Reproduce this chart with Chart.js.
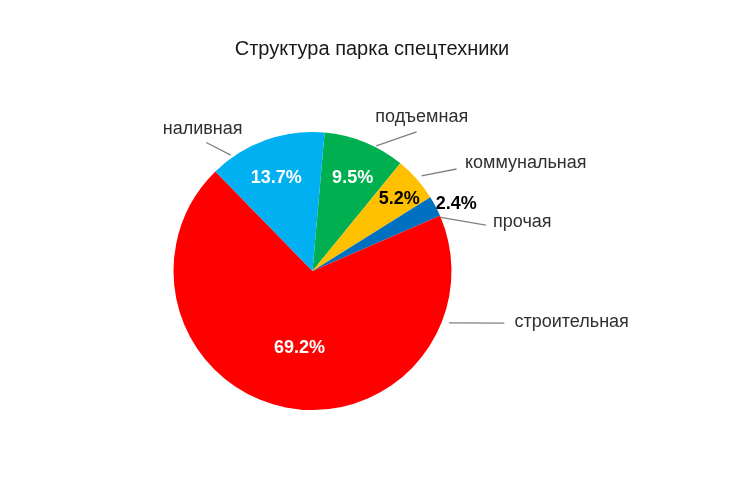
<!DOCTYPE html>
<html>
<head>
<meta charset="utf-8">
<script src="https://cdn.jsdelivr.net/npm/chart.js"></script>
<style>
  html, body { margin: 0; padding: 0; background: #fff; }
  #wrap { width: 748px; height: 500px; }
</style>
</head>
<body>
<div id="wrap"><canvas id="myChart"></canvas></div>
<script>
const title = 'Структура парка спецтехники';
const categories = ['подъемная', 'коммунальная', 'прочая', 'строительная', 'наливная'];
const shares = [9.5, 5.2, 2.4, 69.2, 13.7];
const valueLabels = ['9.5%', '5.2%', '2.4%', '69.2%', '13.7%'];
const colors = ['#00B050', '#FFC000', '#0070C0', '#FF0000', '#00B0F0'];

// label placement, polar: angle in degrees clockwise from top, r in pie radii
const nameLayout = [
  { text: [35.3, 1.36], line: [[27, 1.01], [36.8, 1.25]] },
  { text: [63.1, 1.72], line: [[48.9, 1.04], [54.7, 1.27]] },
  { text: [76.9, 1.55], line: [[67.3, 1.0], [75.2, 1.29]] },
  { text: [101.1, 1.90], line: [[110.8, 1.05], [105.2, 1.43]] },
  { text: [322.2, 1.29], line: [[324.8, 1.02], [320.4, 1.2]] }
];
const valueLayout = [[23.3, 0.73], [50.4, 0.81], [65.1, 1.14], [189.6, 0.56], [338.8, 0.72]];
const valueColors = ['#fff', '#000', '#000', '#fff', '#fff'];

function polar(arc, a, r) {
  const rad = a * Math.PI / 180;
  return [arc.x + Math.sin(rad) * r * arc.outerRadius, arc.y - Math.cos(rad) * r * arc.outerRadius];
}

const labelsPlugin = {
  id: 'pieLabels',
  afterDraw(chart) {
    const ctx = chart.ctx;
    const arcs = chart.getDatasetMeta(0).data;
    ctx.save();
    ctx.textAlign = 'center';
    ctx.textBaseline = 'middle';
    ctx.fillStyle = '#1a1a1a';
    ctx.font = '20px "Liberation Sans", Arial, sans-serif';
    ctx.fillText(title, chart.width / 2 - 2, 49);

    arcs.forEach((arc, i) => {
      const lay = nameLayout[i];
      const p1 = polar(arc, lay.line[0][0], lay.line[0][1]);
      const p2 = polar(arc, lay.line[1][0], lay.line[1][1]);
      ctx.strokeStyle = '#808080';
      ctx.lineWidth = 1.3;
      ctx.beginPath();
      ctx.moveTo(p1[0], p1[1]);
      ctx.lineTo(p2[0], p2[1]);
      ctx.stroke();

      const t = polar(arc, lay.text[0], lay.text[1]);
      ctx.fillStyle = '#303030';
      ctx.font = '18px "Liberation Sans", Arial, sans-serif';
      ctx.fillText(categories[i], t[0], t[1]);

      const v = polar(arc, valueLayout[i][0], valueLayout[i][1]);
      ctx.fillStyle = valueColors[i];
      ctx.font = 'bold 18px "Liberation Sans", Arial, sans-serif';
      ctx.fillText(valueLabels[i], v[0], v[1]);
    });
    ctx.restore();
  }
};

new Chart(document.getElementById('myChart'), {
  type: 'pie',
  data: {
    labels: categories,
    datasets: [{
      data: shares,
      backgroundColor: colors,
      borderWidth: 0
    }]
  },
  options: {
    responsive: true,
    maintainAspectRatio: false,
    animation: false,
    rotation: 5,
    layout: { padding: { left: 173, right: 296, top: 132, bottom: 90 } },
    plugins: {
      legend: { display: false },
      tooltip: { enabled: false }
    }
  },
  plugins: [labelsPlugin]
});
</script>
</body>
</html>
